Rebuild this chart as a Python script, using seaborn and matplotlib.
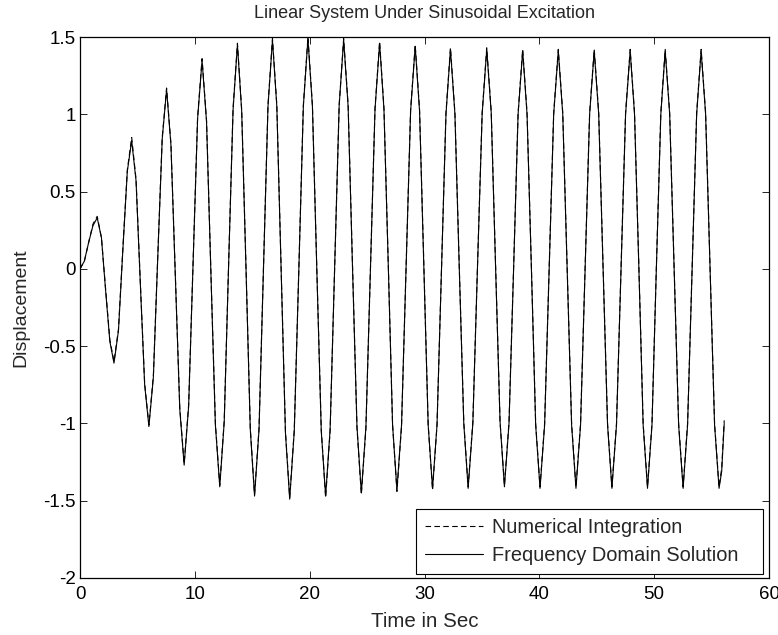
import matplotlib
matplotlib.use("Agg")
import matplotlib.pyplot as plt
import seaborn as sns
import pandas as pd

# ---- data ----
time_s = [
    0.00, 0.38, 0.75, 1.13, 1.50,
    1.87, 2.23, 2.60, 2.96,
    3.35, 3.73, 4.12, 4.50,
    4.88, 5.25, 5.63, 6.00,
    6.39, 6.77, 7.16, 7.54,
    7.92, 8.31, 8.69, 9.07,
    9.46, 9.85, 10.24, 10.63,
    11.02, 11.40, 11.79, 12.17,
    12.56, 12.94, 13.33, 13.71,
    14.08, 14.46, 14.83, 15.20,
    15.59, 15.98, 16.37, 16.76,
    17.14, 17.51, 17.89, 18.26,
    18.66, 19.06, 19.45, 19.85,
    20.24, 20.62, 21.01, 21.39,
    21.78, 22.18, 22.57, 22.96,
    23.35, 23.73, 24.12, 24.50,
    24.90, 25.30, 25.69, 26.09,
    26.47, 26.85, 27.22, 27.60,
    28.00, 28.40, 28.79, 29.19,
    29.57, 29.95, 30.32, 30.70,
    31.09, 31.48, 31.87, 32.26,
    32.65, 33.03, 33.42, 33.80,
    34.21, 34.61, 35.02, 35.42,
    35.81, 36.19, 36.58, 36.96,
    37.36, 37.76, 38.15, 38.55,
    38.93, 39.31, 39.68, 40.06,
    40.46, 40.86, 41.25, 41.65,
    42.04, 42.42, 42.81, 43.19,
    43.59, 43.99, 44.38, 44.78,
    45.17, 45.55, 45.94, 46.32,
    46.72, 47.12, 47.51, 47.91,
    48.29, 48.67, 49.04, 49.42,
    49.81, 50.19, 50.58, 50.96,
    51.35, 51.74, 52.13, 52.52,
    52.91, 53.31, 53.70, 54.09,
    54.48, 54.87, 55.26, 55.65,
    55.88, 56.10,
]

disp_numerical = [
    0.00, 0.05, 0.17, 0.29, 0.34,
    0.20, -0.13, -0.46, -0.60,
    -0.39, 0.13, 0.64, 0.85,
    0.58, -0.08, -0.74, -1.01,
    -0.69, 0.08, 0.85, 1.17,
    0.81, -0.05, -0.90, -1.26,
    -0.88, 0.05, 0.98, 1.36,
    0.96, -0.02, -1.00, -1.40,
    -0.98, 0.03, 1.04, 1.46,
    1.03, 0.00, -1.03, -1.46,
    -1.03, 0.02, 1.06, 1.49,
    1.06, 0.01, -1.05, -1.48,
    -1.04, 0.01, 1.06, 1.50,
    1.06, 0.01, -1.04, -1.48,
    -1.05, 0.01, 1.06, 1.49,
    1.06, 0.02, -1.03, -1.46,
    -1.03, 0.01, 1.04, 1.47,
    1.04, 0.02, -1.01, -1.44,
    -1.02, 0.01, 1.03, 1.45,
    1.03, 0.01, -1.01, -1.43,
    -1.01, 0.00, 1.01, 1.43,
    1.01, 0.01, -0.99, -1.41,
    -0.99, 0.01, 1.01, 1.43,
    1.02, 0.02, -0.99, -1.40,
    -0.99, 0.01, 1.01, 1.42,
    1.01, 0.01, -1.00, -1.41,
    -1.00, 0.01, 1.01, 1.42,
    1.01, 0.01, -1.00, -1.41,
    -1.00, 0.01, 1.01, 1.42,
    1.01, 0.01, -1.00, -1.41,
    -1.00, 0.01, 1.01, 1.42,
    1.01, 0.01, -1.00, -1.41,
    -1.00, 0.01, 1.01, 1.42,
    1.01, 0.01, -1.00, -1.41,
    -1.00, 0.01, 1.01, 1.42,
    1.01, 0.01, -1.00, -1.41,
    -1.29, -0.98,
]

disp_frequency = [
    0.00, 0.05, 0.17, 0.28, 0.33,
    0.20, -0.14, -0.47, -0.61,
    -0.40, 0.12, 0.63, 0.83,
    0.57, -0.09, -0.75, -1.02,
    -0.70, 0.07, 0.84, 1.16,
    0.80, -0.06, -0.91, -1.27,
    -0.89, 0.04, 0.97, 1.35,
    0.95, -0.03, -1.01, -1.41,
    -0.99, 0.02, 1.03, 1.45,
    1.02, -0.01, -1.04, -1.47,
    -1.04, 0.01, 1.05, 1.48,
    1.05, 0.00, -1.06, -1.49,
    -1.05, 0.00, 1.05, 1.49,
    1.05, 0.00, -1.05, -1.47,
    -1.04, 0.02, 1.06, 1.48,
    1.05, 0.01, -1.02, -1.45,
    -1.02, 0.02, 1.03, 1.46,
    1.03, 0.01, -1.01, -1.43,
    -1.01, 0.01, 1.02, 1.44,
    1.02, 0.00, -1.01, -1.42,
    -1.01, 0.00, 1.00, 1.42,
    1.00, 0.00, -1.00, -1.42,
    -1.00, 0.00, 1.00, 1.42,
    1.01, 0.01, -0.99, -1.41,
    -1.00, 0.00, 1.00, 1.41,
    1.00, 0.00, -1.01, -1.42,
    -1.01, 0.00, 1.00, 1.41,
    1.00, 0.00, -1.01, -1.42,
    -1.01, 0.00, 1.00, 1.41,
    1.00, 0.00, -1.01, -1.42,
    -1.01, 0.00, 1.00, 1.41,
    1.00, 0.00, -1.01, -1.42,
    -1.01, 0.00, 1.00, 1.41,
    1.00, 0.00, -1.01, -1.42,
    -1.01, 0.00, 1.00, 1.41,
    1.00, 0.00, -1.01, -1.42,
    -1.31, -1.00,
]

series_names = ["Numerical Integration", "Frequency Domain Solution"]
x_ticks = [0, 10, 20, 30, 40, 50, 60]
y_ticks = [-2, -1.5, -1, -0.5, 0, 0.5, 1, 1.5]
y_tick_labels = ["-2", "-1.5", "-1", "-0.5", "0", "0.5", "1", "1.5"]

df = pd.concat([
    pd.DataFrame({"t": time_s, "y": disp_numerical, "method": series_names[0]}),
    pd.DataFrame({"t": time_s, "y": disp_frequency, "method": series_names[1]}),
], ignore_index=True)

# ---- styling ----
sns.set_style("ticks")
plt.rcParams["font.family"] = ["Liberation Sans", "DejaVu Sans"]
FS = 14

fig = plt.figure(figsize=(7.78, 6.35), dpi=100)
ax = fig.add_axes([80 / 778, 1 - 578 / 635, 689 / 778, 541 / 635])

sns.lineplot(
    data=df, x="t", y="y", hue="method", style="method",
    hue_order=series_names[::-1], style_order=series_names[::-1],
    palette={series_names[0]: "black", series_names[1]: "black"},
    dashes={series_names[0]: (5, 3), series_names[1]: ""},
    estimator=None, sort=False, linewidth=0.8, ax=ax, legend=False,
)

ax.set_xlim(0, 60)
ax.set_ylim(-2, 1.5)
ax.set_xticks(x_ticks)
ax.set_yticks(y_ticks)
ax.set_yticklabels(y_tick_labels)
ax.tick_params(direction="in", length=5, width=0.6, top=True, right=True,
               labelsize=13.5, colors="black")
ax.tick_params(axis="y", pad=3)
ax.tick_params(axis="x", pad=6)
for s in ax.spines.values():
    s.set_visible(True)
    s.set_color("black")
    s.set_linewidth(0.9)

ax.set_title("Linear System Under Sinusoidal Excitation", fontsize=13, pad=14)
ax.set_xlabel("Time in Sec", fontsize=14.8, labelpad=6)
ax.set_ylabel("Displacement", fontsize=FS, labelpad=10)

handles = [
    plt.Line2D([], [], color="black", lw=0.8, dashes=(5, 3)),
    plt.Line2D([], [], color="black", lw=0.8),
]
leg = ax.legend(handles, series_names, loc="lower left", mode="expand",
                bbox_to_anchor=((416 - 80) / 689, 4 / 541, 347 / 689, 68 / 541),
                borderaxespad=0.0,
                fontsize=14.4, handlelength=2.9, handletextpad=0.45,
                labelspacing=0.45, borderpad=0.45, fancybox=False,
                framealpha=1, edgecolor="black")
leg.get_frame().set_linewidth(0.8)

fig.savefig("out.png", dpi=100)
